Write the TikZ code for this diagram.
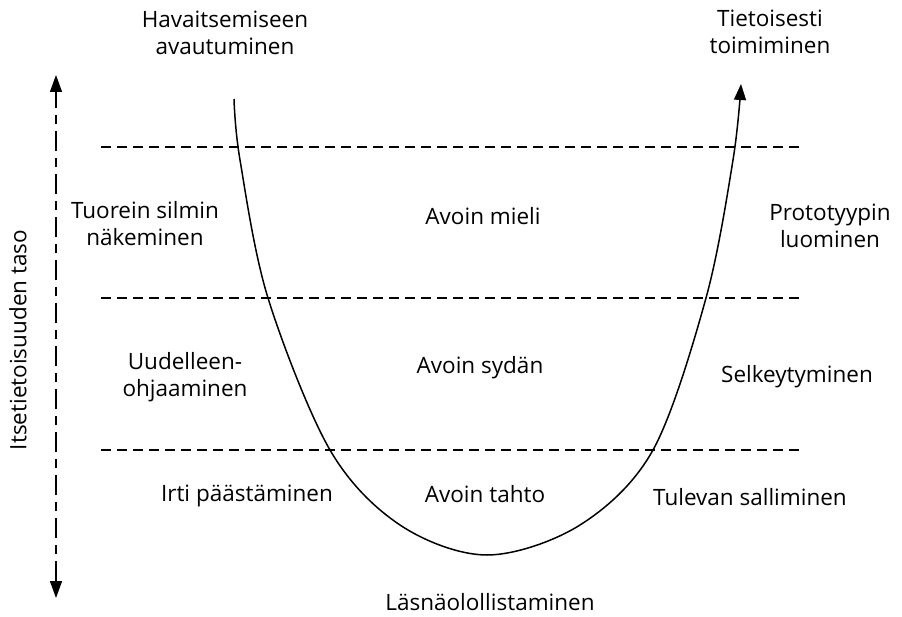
\documentclass[tikz,border=0pt]{standalone}
\usepackage{fontspec}
\setmainfont{Open Sans}
\usetikzlibrary{arrows.meta}
\begin{document}
\begin{tikzpicture}[x=1pt,y=-1pt,
  lbl/.style={font=\fontsize{22.5}{27}\selectfont, align=center, inner sep=0pt},
  level/.style={dash pattern=on 10pt off 6pt, line width=1.5pt},
  curve/.style={line width=1.5pt},
  axis/.style={line width=1.5pt, dash pattern=on 20pt off 7pt on 9pt off 7pt}]
\useasboundingbox (0,0) rectangle (902,617);
% level lines
\draw[level] (101,147) -- (800,147);
\draw[level] (101,298) -- (800,298);
\draw[level] (101,450) -- (800,450);
% axis
\coordinate (atop) at (56,75);
\coordinate (abot) at (56,598);
\draw[axis, {Triangle[length=17pt,width=12pt]}-{Triangle[length=17pt,width=12pt]}] (abot) -- (atop);
\node[lbl, rotate=90] (axl) at (18,340) {Itsetietoisuuden taso};
% U curve
\draw[curve, -{Triangle[length=16pt,width=12pt]}] plot[smooth, tension=0.55] coordinates {(234,99) (240,160) (268,298) (330,450) (400,525) (487,555) (580,525) (653,450) (706,298) (733,160) (741,84)};
% labels
\node[lbl] (hav) at (225,33) {Havaitsemiseen\\avautuminen};
\node[lbl] (tie) at (770,32) {Tietoisesti\\toimiminen};
\node[lbl] (tuo) at (145,224) {Tuorein silmin\\näkeminen};
\node[lbl] (mie) at (483,216) {Avoin mieli};
\node[lbl] (pro) at (830,226) {Prototyypin\\luominen};
\node[lbl] (uud) at (185,377) {Uudelleen-\\ohjaaminen};
\node[lbl] (syd) at (480,368) {Avoin sydän};
\node[lbl] (sel) at (797,377) {Selkeytyminen};
\node[lbl] (irt) at (247,496) {Irti päästäminen};
\node[lbl] (tah) at (485,494) {Avoin tahto};
\node[lbl] (tul) at (750,497) {Tulevan salliminen};
\node[lbl] (las) at (490,602) {Läsnäolollistaminen};
\end{tikzpicture}
\end{document}
